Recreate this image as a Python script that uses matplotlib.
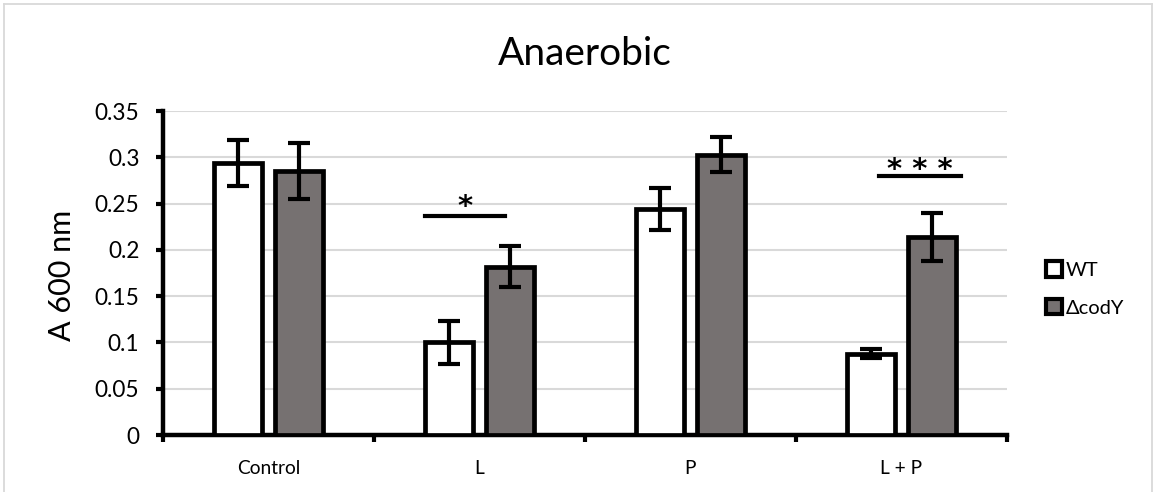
import matplotlib
matplotlib.use("Agg")
import matplotlib.pyplot as plt
import numpy as np
from matplotlib.lines import Line2D
from matplotlib.patches import Patch

categories = ["Control", "L", "P", "L + P"]
series_names = ["WT", "ΔcodY"]
wt = [0.294, 0.100, 0.244, 0.088]
wt_err = [0.025, 0.0235, 0.023, 0.005]
cody = [0.285, 0.182, 0.303, 0.214]
cody_err = [0.030, 0.022, 0.019, 0.026]
yticks = [0, 0.05, 0.1, 0.15, 0.2, 0.25, 0.3, 0.35]
ytick_labels = ["0", "0.05", "0.1", "0.15", "0.2", "0.25", "0.3", "0.35"]
sig_labels = ["*", "* * *"]
sig_cat = [1, 3]
sig_y = [0.2365, 0.280]
sig_text_y = [0.2375, 0.2775]
sig_span = [(-0.26, 0.123), (-0.107, 0.28)]

plt.rcParams['font.family'] = ['Lato', 'DejaVu Sans']

W, H = 1155, 492
fig = plt.figure(figsize=(W/100, H/100), dpi=100)
ax = fig.add_axes([163/W, 1-435/H, (1007-163)/W, (435-111)/H])

x = np.arange(len(categories))
bw = 0.23
off = 0.145
ekw = dict(elinewidth=3, capthick=3)
ax.bar(x - off, wt, bw, color="white", edgecolor="black", linewidth=3.4,
       yerr=wt_err, capsize=8, error_kw=ekw, zorder=3, label=series_names[0])
ax.bar(x + off, cody, bw, color="#767171", edgecolor="black", linewidth=3.4,
       yerr=cody_err, capsize=8, error_kw=ekw, zorder=3, label=series_names[1])

ax.set_ylim(0, 0.35)
ax.set_xlim(-0.5, 3.5)
ax.set_yticks(yticks)
ax.set_yticklabels(ytick_labels, fontsize=16.3)
ax.set_xticks(x)
ax.set_xticklabels(categories, fontsize=13.8)
ax.tick_params(axis='x', which='major', length=0, pad=18)
ax.set_xticks(np.arange(-0.5, 3.6, 1.0), minor=True)
ax.tick_params(axis='x', which='minor', length=5, width=3, direction='out')
ax.tick_params(axis='y', which='major', length=5, width=3, direction='out', pad=12)
ax.yaxis.grid(True, color="#d9d9d9", linewidth=1.5, zorder=0)
ax.set_axisbelow(True)
for s in ["top", "right"]:
    ax.spines[s].set_visible(False)
for s in ["left", "bottom"]:
    ax.spines[s].set_linewidth(3.2)
ax.set_ylabel("A 600 nm", fontsize=22)
ax.yaxis.set_label_coords(76/W, 1-275/H, transform=fig.transFigure)

for lab, c, yv, ty, (a, b) in zip(sig_labels, sig_cat, sig_y, sig_text_y, sig_span):
    ax.plot([c + a, c + b], [yv, yv], color="black", linewidth=3, zorder=4)
    ax.text(c + (a + b) / 2, ty, lab, ha="center", va="baseline",
            fontsize=21, family="DejaVu Sans", fontweight="bold")

fig.text(585/W, 1-65/H, "Anaerobic", ha="center", va="baseline", fontsize=28)

handles = [Patch(facecolor="white", edgecolor="black", linewidth=3),
           Patch(facecolor="#767171", edgecolor="black", linewidth=3)]
fig.legend(handles, series_names, loc="center left",
           bbox_to_anchor=(1046/W, 1-289/H), frameon=False, fontsize=14.5,
           handlelength=0.8, handleheight=0.8, handletextpad=0.2,
           labelspacing=1.0, borderpad=0, borderaxespad=0)

# outer chart border
fig.add_artist(Line2D([4/W, 4/W], [0, 1-4/H], color="#d9d9d9", linewidth=1.3))
fig.add_artist(Line2D([4/W, 1-3/W], [1-4/H, 1-4/H], color="#d9d9d9", linewidth=1.3))
fig.add_artist(Line2D([1-3/W, 1-3/W], [0, 1-4/H], color="#d9d9d9", linewidth=1.3))

fig.savefig("out.png", dpi=100)
